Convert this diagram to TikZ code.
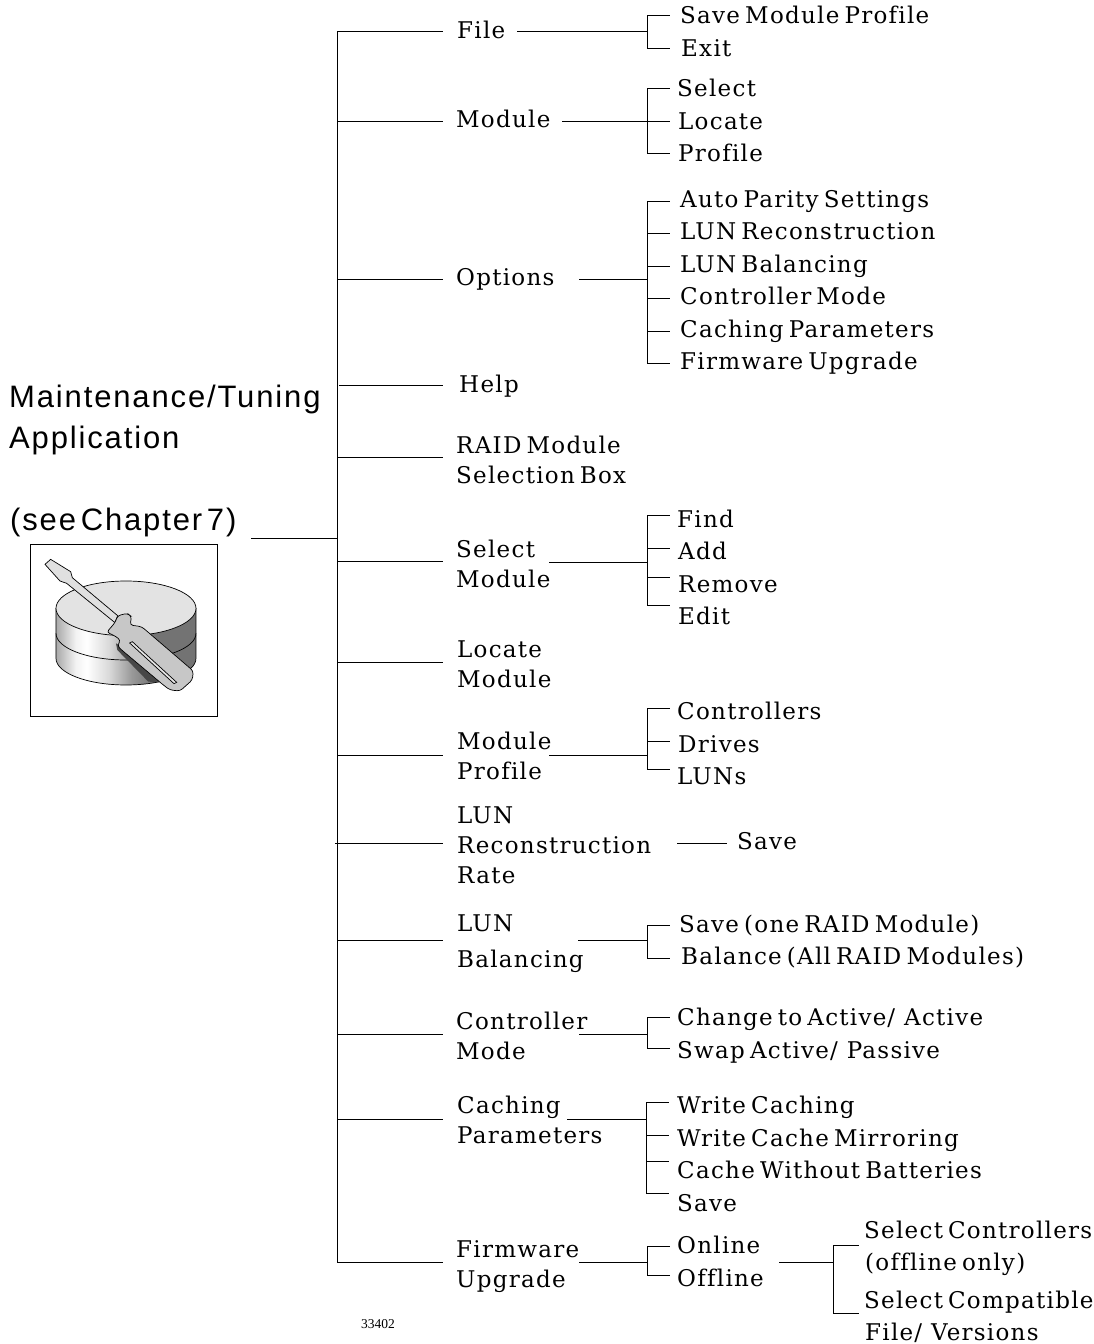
\documentclass[tikz,border=0pt]{standalone}
\usepackage{fontspec}
\setmainfont[LetterSpace=5.5,WordSpace=0.6,Ligatures=CommonOff]{DejaVu Serif}
\newfontfamily\titlefont[LetterSpace=6,WordSpace=0.45]{Liberation Sans}
\newfontfamily\numfont{Liberation Serif}
\newcommand{\slashk}{\kern1pt/\kern9pt}
\pgfdeclarehorizontalshading{diskshade}{100bp}{
  color(0bp)=(black!62); color(20bp)=(black!50); color(26bp)=(black!30);
  color(32bp)=(black!5); color(36bp)=(white); color(44bp)=(black!15);
  color(52bp)=(black!40); color(60bp)=(black!55); color(100bp)=(black!55)}
\begin{document}
\begin{tikzpicture}[x=1pt,y=-1pt,
  lbl/.style={font=\fontsize{23}{30}\selectfont,inner sep=0pt,anchor=base west,align=left},
  lblm/.style={lbl,anchor=west},
  title/.style={font=\titlefont\fontsize{31}{41}\selectfont,inner sep=0pt,anchor=base west,align=left},
  wire/.style={line width=0.9pt,black}]
\useasboundingbox (0,0) rectangle (1094,1344);
\node[title] (t1) at (9,407) {Maintenance/Tuning};
\node[title] (t2) at (9,448) {Application};
\node[title] (t3) at (10,530) {(see Chapter 7)};
% icon
\node[draw,line width=0.8pt,minimum width=187pt,minimum height=172pt,inner sep=0pt] (box) at (124,630) {};
\begin{scope}[shift={(30,545)},x=0.3333pt,y=-0.3333pt]
  \path[shading=diskshade,draw=black,line width=0.7pt]
    (78,190) -- (78,340) arc[start angle=180,end angle=0,x radius=210,y radius=80]
    -- (498,190) -- cycle;
  \draw[line width=0.7pt] (78,265) arc[start angle=180,end angle=0,x radius=210,y radius=80];
  \draw[fill=black!11,line width=0.7pt] (288,190) ellipse[x radius=210,y radius=82];
  \fill[black!72] (258,295) -- (262,315) -- (355,410) -- (395,412) -- (275,305) -- cycle;
  \draw[fill=black!12,line width=0.7pt] (45,58) -- (62,43) -- (122,80) -- (127,98) -- (263,212) -- (255,233) -- (110,115) -- (90,108) -- cycle;
  \draw[fill=black!22,line width=0.7pt,rounded corners=3pt] (255,233) -- (263,212) -- (292,205) -- (305,215) -- (300,240) -- (335,245) -- (490,378) -- (487,405) -- (450,438) -- (420,435) -- (400,420) -- (275,315) -- (262,303) -- (272,285) -- (250,270) -- (230,262) -- cycle;
  \draw[fill=black!10,line width=0.7pt] (299,294) -- (307,290) -- (440,412) -- (432,416) -- cycle;
\end{scope}
% trunk
\coordinate (top) at (337,31);
\coordinate (bot) at (337,1262);
\draw[wire] (top) -- (bot);
\coordinate (tj) at (338,538);
\coordinate (tl) at (251,538);
\draw[wire] (tl) -- (tj);
% level 2
\foreach \n/\y/\s/\e in {a/31/337/443,b/121/337/443,c/279/337/443,d/385/339/443,e/457/337/443,f/561/337/443,g/662/337/443,h/755/337/443,i/843/335/443,j/940/337/443,k/1034/337/443,l/1119/337/443,m/1262/337/443}{
  \coordinate (\n0) at (\s,\y);
  \coordinate (\n1) at (\e,\y);
  \draw[wire] (\n0) -- (\n1);
}
\node[lbl] (a) at (457,38) {File};
\node[lbl] (b) at (456,127) {Module};
\node[lbl] (c) at (456,285) {Options};
\node[lbl] (d) at (459,392) {Help};
\node[lblm] (e) at (456,460) {RAID Module\\Selection Box};
\node[lblm] (f) at (456,564) {Select\\Module};
\node[lblm] (g) at (457,664) {Locate\\Module};
\node[lblm] (h) at (457,756) {Module\\Profile};
\node[lblm] (i) at (457,845) {LUN\\Reconstruction\\Rate};
\node[lbl] (j1) at (457,931) {LUN};
\node[lbl] (j2) at (457,967) {Balancing};
\node[lblm] (k) at (456,1036) {Controller\\Mode};
\node[lblm] (l) at (457,1120) {Caching\\Parameters};
\node[lblm] (m) at (456,1267) {Firmware\\Upgrade};
% level 3
\coordinate (fa) at (517,31); \coordinate (ja) at (647,31);
\draw[wire] (fa) -- (ja);
\draw[wire] (647,15) -- (647,48);
\foreach \y in {15,48} \draw[wire] (647,\y) -- (670,\y);
\node[lbl] (a1) at (680,23) {Save Module Profile};
\node[lbl] (a2) at (681,56) {Exit};

\coordinate (mb) at (562,121); \coordinate (jb) at (647,121);
\draw[wire] (mb) -- (jb);
\draw[wire] (647,88) -- (647,153);
\foreach \y in {88,121,153} \draw[wire] (647,\y) -- (670,\y);
\node[lbl] (b1) at (677,96) {Select};
\node[lbl] (b2) at (678,129) {Locate};
\node[lbl] (b3) at (678,161) {Profile};

\coordinate (mc) at (579,279); \coordinate (jc) at (647,279);
\draw[wire] (mc) -- (jc);
\draw[wire] (647,201) -- (647,363);
\foreach \y in {201,233,266,298,331,363} \draw[wire] (647,\y) -- (670,\y);
\node[lbl] (c1) at (680,207) {Auto Parity Settings};
\node[lbl] (c2) at (680,239) {LUN Reconstruction};
\node[lbl] (c3) at (680,272) {LUN Balancing};
\node[lbl] (c4) at (680,304) {Controller Mode};
\node[lbl] (c5) at (680,337) {Caching Parameters};
\node[lbl] (c6) at (680,369) {Firmware Upgrade};

\coordinate (mf) at (549,562); \coordinate (jf) at (647,562);
\draw[wire] (mf) -- (jf);
\draw[wire] (647,515) -- (647,605);
\foreach \y in {515,548,577,605} \draw[wire] (647,\y) -- (670,\y);
\node[lbl] (f1) at (677,527) {Find};
\node[lbl] (f2) at (678,559) {Add};
\node[lbl] (f3) at (678,592) {Remove};
\node[lbl] (f4) at (678,624) {Edit};

\coordinate (mh) at (549,755); \coordinate (jh) at (647,755);
\draw[wire] (mh) -- (jh);
\draw[wire] (647,708) -- (647,769);
\foreach \y in {708,741,769} \draw[wire] (647,\y) -- (670,\y);
\node[lbl] (h1) at (677,719) {Controllers};
\node[lbl] (h2) at (678,752) {Drives};
\node[lbl] (h3) at (677,784) {LUNs};

\coordinate (mi) at (677,843); \coordinate (ji) at (727,843);
\draw[wire] (mi) -- (ji);
\node[lbl] (i1) at (737,849) {Save};

\coordinate (mj) at (578,940); \coordinate (jj) at (647,940);
\draw[wire] (mj) -- (jj);
\draw[wire] (647,925) -- (647,958);
\foreach \y in {925,958} \draw[wire] (647,\y) -- (670,\y);
\node[lbl] (j3) at (679,932) {Save (one RAID Module)};
\node[lbl] (j4) at (681,964) {Balance (All RAID Modules)};

\coordinate (mk) at (579,1034); \coordinate (jk) at (647,1034);
\draw[wire] (mk) -- (jk);
\draw[wire] (647,1017) -- (647,1048);
\foreach \y in {1017,1048} \draw[wire] (647,\y) -- (670,\y);
\node[lbl] (k1) at (677,1025) {Change to Active\slashk Active};
\node[lbl] (k2) at (677,1058) {Swap Active\slashk Passive};

\coordinate (ml) at (567,1119); \coordinate (jl) at (646,1119);
\draw[wire] (ml) -- (jl);
\draw[wire] (646,1102) -- (646,1193);
\foreach \y in {1102,1135,1161,1193} \draw[wire] (646,\y) -- (669,\y);
\node[lbl] (l1) at (677,1113) {Write Caching};
\node[lbl] (l2) at (677,1146) {Write Cache Mirroring};
\node[lbl] (l3) at (677,1178) {Cache Without Batteries};
\node[lbl] (l4) at (677,1211) {Save};

\coordinate (mm) at (579,1262); \coordinate (jm) at (647,1262);
\draw[wire] (mm) -- (jm);
\draw[wire] (647,1246) -- (647,1275);
\foreach \y in {1246,1275} \draw[wire] (647,\y) -- (670,\y);
\node[lbl] (m1) at (677,1253) {Online};
\node[lbl] (m2) at (677,1286) {Offline};
\coordinate (mn) at (779,1262); \coordinate (jn) at (833,1262);
\draw[wire] (mn) -- (jn);
\draw[wire] (833,1245) -- (833,1313);
\foreach \y in {1245,1313} \draw[wire] (833,\y) -- (859,\y);
\node[lbl] (n1) at (864,1238) {Select Controllers};
\node[lbl] (n2) at (865,1270) {(offline only)};
\node[lbl] (n3) at (864,1308) {Select Compatible};
\node[lbl] (n4) at (865,1340) {File\slashk Versions};
\node[font=\numfont\fontsize{13.5}{15}\selectfont,inner sep=0pt,anchor=base west] (num) at (361,1328) {33402};
\end{tikzpicture}
\end{document}
